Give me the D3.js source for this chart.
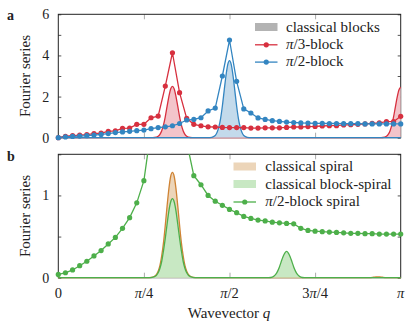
<!DOCTYPE html>
<html>
<head>
<meta charset="utf-8">
<script src="https://cdn.jsdelivr.net/npm/d3@7"></script>
<style>
  body { margin: 0; background: #fff; }
  svg text { font-family: "Liberation Serif", "DejaVu Serif", serif; fill: #222; }
</style>
</head>
<body>
<svg width="415" height="326" font-family="Liberation Serif"></svg>
<script>
// points sit at q = i * pi / 48, i = 0..48
var nSteps = 48;

// panel a, dotted series
var pi3Block = [0, 0.07, 0.1, 0.13, 0.15, 0.2, 0.22, 0.31, 0.33, 0.45, 0.47, 0.65, 0.65, 0.97, 1.05, 2.51, 4.13, 2.19, 0.94, 0.65,
  0.58, 0.53, 0.52, 0.5, 0.49, 0.49, 0.49, 0.47, 0.47, 0.48, 0.48, 0.48, 0.5, 0.52, 0.52, 0.54, 0.55, 0.57, 0.585, 0.585,
  0.62, 0.63, 0.65, 0.67, 0.7, 0.72, 0.78, 0.78, 1.04];
var pi2Block = [0, 0.04, 0.06, 0.08, 0.1, 0.13, 0.16, 0.2, 0.25, 0.28, 0.31, 0.34, 0.37, 0.44, 0.49, 0.53, 0.58, 0.69, 0.86, 0.89,
  0.97, 1.3, 1.44, 3.0, 4.75, 2.74, 1.4, 1.2, 0.96, 0.89, 0.83, 0.79, 0.76, 0.74, 0.72, 0.71, 0.7, 0.7, 0.69,
  0.69, 0.68, 0.68, 0.68, 0.67, 0.67, 0.67, 0.67, 0.67, 0.67];

// panel b, dotted series (runs off the top between pi/4 and pi/3)
var pi2BlockSpiral = [0.04, 0.06, 0.094, 0.146, 0.2, 0.265, 0.33, 0.41, 0.49, 0.6, 0.73, 0.91, 1.18, 1.8, 3.0, 4.5, 6.0, 3.0, 1.65, 1.24,
  1.13, 1.0, 0.93, 0.88, 0.83, 0.79, 0.745, 0.72, 0.7, 0.69, 0.675, 0.667, 0.66, 0.655, 0.6, 0.575, 0.565, 0.56, 0.555,
  0.55, 0.545, 0.54, 0.54, 0.535, 0.535, 0.53, 0.53, 0.53, 0.53];

// classical peaks: heights at these offsets (in steps of pi/48) on each side of the centre
var peakOffsets = [0, 0.25, 0.5, 0.75, 1, 1.25, 1.5, 1.75, 2, 2.5, 3, 3.5];
var blockPi3Peak = [2.5, 2.37, 2.0, 1.52, 1.03, 0.62, 0.34, 0.165, 0.07, 0.01, 0, 0];
var blockPi3EdgePeak = [2.45, 2.32, 1.96, 1.49, 1.01, 0.61, 0.33, 0.16, 0.07, 0.01, 0, 0];
var blockPi2Peak = [3.75, 3.55, 3.0, 2.28, 1.54, 0.93, 0.51, 0.25, 0.105, 0.015, 0, 0];
var spiralPeak = [1.28, 1.23, 1.08, 0.87, 0.64, 0.43, 0.27, 0.15, 0.08, 0.017, 0.003, 0];
var spiralSmallPeak = [0.01, 0.009, 0.007, 0.004, 0.002, 0.001, 0, 0, 0, 0, 0, 0];
var blockSpiralPeak = [0.96, 0.92, 0.81, 0.65, 0.48, 0.33, 0.2, 0.115, 0.06, 0.012, 0.002, 0];
var blockSpiralPeak2 = [0.32, 0.3, 0.255, 0.195, 0.13, 0.08, 0.043, 0.02, 0.008, 0.001, 0, 0];

var xTickLabels = ['0', '<tspan font-style="italic">π</tspan>/4', '<tspan font-style="italic">π</tspan>/2',
  '3<tspan font-style="italic">π</tspan>/4', '<tspan font-style="italic">π</tspan>'];
var yTicksA = [0, 2, 4, 6];
var yTicksB = [0, 1];

var red = '#d7303f', blue = '#3385c1', green = '#4daf4a', orange = '#cf8334';
var redFill = '#f3c4ca', blueFill = '#c3daeb', greenFill = '#c8e8c3', orangeFill = '#ecd5b9', grayFill = '#b3b3b3';
var serif = '"Liberation Serif", "DejaVu Serif", serif';

var left = 58.3, right = 400.7;
var svg = d3.select('svg');

var x = d3.scaleLinear().domain([0, Math.PI]).range([left, right]);
var yA = d3.scaleLinear().domain([0, 6]).range([137.7, 14.3]);
var yB = d3.scaleLinear().domain([0, 1.5]).range([277.7, 154.3]);

function qOf(i) { return i * Math.PI / nSteps; }

// build a curve from a list of [centre, heights]
function classical(peaks) {
  var pts = [[0, 0], [nSteps, 0]];
  peaks.forEach(function(p) {
    peakOffsets.forEach(function(o, k) {
      pts.push([p[0] - o, p[1][k]]);
      if (o > 0) pts.push([p[0] + o, p[1][k]]);
    });
  });
  pts = pts.filter(function(d) { return d[0] >= 0 && d[0] <= nSteps; });
  var merged = d3.rollups(pts, function(v) { return d3.max(v, function(d) { return d[1]; }); }, function(d) { return d[0]; });
  return merged.sort(function(a, b) { return a[0] - b[0]; });
}

function panel(y, top, bottom, yTicks, yMinor, clipId) {
  var g = svg.append('g');
  g.append('clipPath').attr('id', clipId)
    .append('rect').attr('x', left - 6).attr('y', top).attr('width', right - left + 12).attr('height', bottom - top + 6);

  var xt = [Math.PI / 4, Math.PI / 2, 3 * Math.PI / 4];
  // inward x ticks top and bottom
  [[d3.axisBottom(x), bottom], [d3.axisTop(x), top]].forEach(function(a) {
    g.append('g')
      .attr('class', 'xtick')
      .attr('transform', 'translate(0,' + a[1] + ')')
      .call(a[0].tickValues(xt).tickSizeInner(-5).tickSizeOuter(0).tickFormat(''));
  });
  [[d3.axisLeft(y), left], [d3.axisRight(y), right]].forEach(function(a) {
    g.append('g')
      .attr('class', 'ytick')
      .attr('transform', 'translate(' + a[1] + ',0)')
      .call(a[0].tickValues(yMinor).tickSizeInner(-3).tickSizeOuter(0).tickFormat(''));
  });
  g.selectAll('.domain').remove();
  g.selectAll('.xtick line').attr('stroke', '#aaa');
  g.selectAll('.ytick line').attr('stroke', '#555');

  // y labels
  g.append('g')
    .attr('transform', 'translate(' + left + ',0)')
    .call(d3.axisLeft(y).tickValues(yTicks).tickFormat(d3.format('d')).tickSize(0).tickPadding(9))
    .attr('font-family', serif)
    .call(function(s) { s.select('.domain').remove(); })
    .selectAll('text')
    .style('font-family', serif)
    .style('font-size', '14px')
    .attr('fill', '#222');

  g.append('rect')
    .attr('x', left).attr('y', top)
    .attr('width', right - left).attr('height', bottom - top)
    .attr('fill', 'none').attr('stroke', '#222').attr('stroke-width', 1);

  return g.append('g').attr('clip-path', 'url(#' + clipId + ')');
}

function drawClassical(g, y, pts, color, fill) {
  var area = d3.area().curve(d3.curveMonotoneX)
    .x(function(d) { return x(qOf(d[0])); })
    .y0(y(0))
    .y1(function(d) { return y(d[1]); });
  var line = d3.line().curve(d3.curveMonotoneX)
    .x(function(d) { return x(qOf(d[0])); })
    .y(function(d) { return y(d[1]); });
  g.append('path').datum(pts).attr('d', area).attr('fill', fill);
  g.append('path').datum(pts).attr('d', line).attr('fill', 'none').attr('stroke', color).attr('stroke-width', 1.3);
}

function drawDots(g, y, vals, color) {
  var line = d3.line()
    .x(function(d, i) { return x(qOf(i)); })
    .y(function(d) { return y(d); });
  g.append('path').datum(vals).attr('d', line).attr('fill', 'none').attr('stroke', color).attr('stroke-width', 1.3);
  g.selectAll(null).data(vals).enter().append('circle')
    .attr('cx', function(d, i) { return x(qOf(i)); })
    .attr('cy', function(d) { return y(d); })
    .attr('r', 2.6)
    .attr('fill', color);
}

// ---- panel a
var ga = panel(yA, 14.3, 137.7, yTicksA, d3.range(0, 7), 'clipA');
drawClassical(ga, yA, classical([[16, blockPi3Peak], [48, blockPi3EdgePeak]]), red, redFill);
drawClassical(ga, yA, classical([[24, blockPi2Peak]]), blue, blueFill);
drawDots(ga, yA, pi3Block, red);
drawDots(ga, yA, pi2Block, blue);

// ---- panel b
var gb = panel(yB, 154.3, 277.7, yTicksB, [0, 0.5, 1, 1.5], 'clipB');
drawClassical(gb, yB, classical([[16, spiralPeak], [44.8, spiralSmallPeak]]), orange, orangeFill);
drawClassical(gb, yB, classical([[16, blockSpiralPeak], [32, blockSpiralPeak2]]), green, greenFill);
drawDots(gb, yB, pi2BlockSpiral, green);

// x tick labels
svg.append('g').selectAll('text')
  .data(xTickLabels).enter().append('text')
  .attr('x', function(d, i) { return x(i * Math.PI / 4); })
  .attr('y', 298)
  .attr('text-anchor', 'middle')
  .style('font-family', serif)
  .style('font-size', '14.5px')
  .html(function(d) { return d; });

// axis labels
[76, 216].forEach(function(cy) {
  svg.append('text')
    .attr('transform', 'translate(30,' + cy + ') rotate(-90)')
    .attr('text-anchor', 'middle')
    .style('font-family', serif)
    .style('font-size', '15px')
    .text('Fourier series');
});
svg.append('text')
  .attr('x', 229).attr('y', 318)
  .attr('text-anchor', 'middle')
  .style('font-family', serif)
  .style('font-size', '15px')
  .html('Wavevector <tspan font-style="italic">q</tspan>');

svg.append('text').attr('x', 7).attr('y', 20).style('font-family', serif).style('font-size', '14px').style('font-weight', 'bold').text('a');
svg.append('text').attr('x', 7).attr('y', 161).style('font-family', serif).style('font-size', '14px').style('font-weight', 'bold').text('b');

// legends
function legend(rows, lx, tx, y0, dy) {
  var g = svg.append('g');
  rows.forEach(function(r, i) {
    var yy = y0 + i * dy;
    if (r.type === 'patch') {
      g.append('rect').attr('x', lx).attr('y', yy - 8.5).attr('width', 22.5).attr('height', 8)
        .attr('fill', r.color);
    } else {
      g.append('line').attr('x1', lx).attr('x2', lx + 22.5).attr('y1', yy - 4).attr('y2', yy - 4)
        .attr('stroke', r.color).attr('stroke-width', 1.3);
      g.append('circle').attr('cx', lx + 11.25).attr('cy', yy - 4).attr('r', 2.6).attr('fill', r.color);
    }
    g.append('text').attr('x', tx).attr('y', yy).style('font-family', serif).style('font-size', '15px').html(r.label);
  });
}
legend([
  { type: 'patch', color: grayFill, label: 'classical blocks' },
  { type: 'line', color: red, label: '<tspan font-style="italic">π</tspan>/3-block' },
  { type: 'line', color: blue, label: '<tspan font-style="italic">π</tspan>/2-block' }
], 255, 286, 31.5, 17.3);
legend([
  { type: 'patch', color: orangeFill, label: 'classical spiral' },
  { type: 'patch', color: greenFill, label: 'classical block-spiral' },
  { type: 'line', color: green, label: '<tspan font-style="italic">π</tspan>/2-block spiral' }
], 233.5, 265.3, 171, 17.5);
</script>
</body>
</html>
